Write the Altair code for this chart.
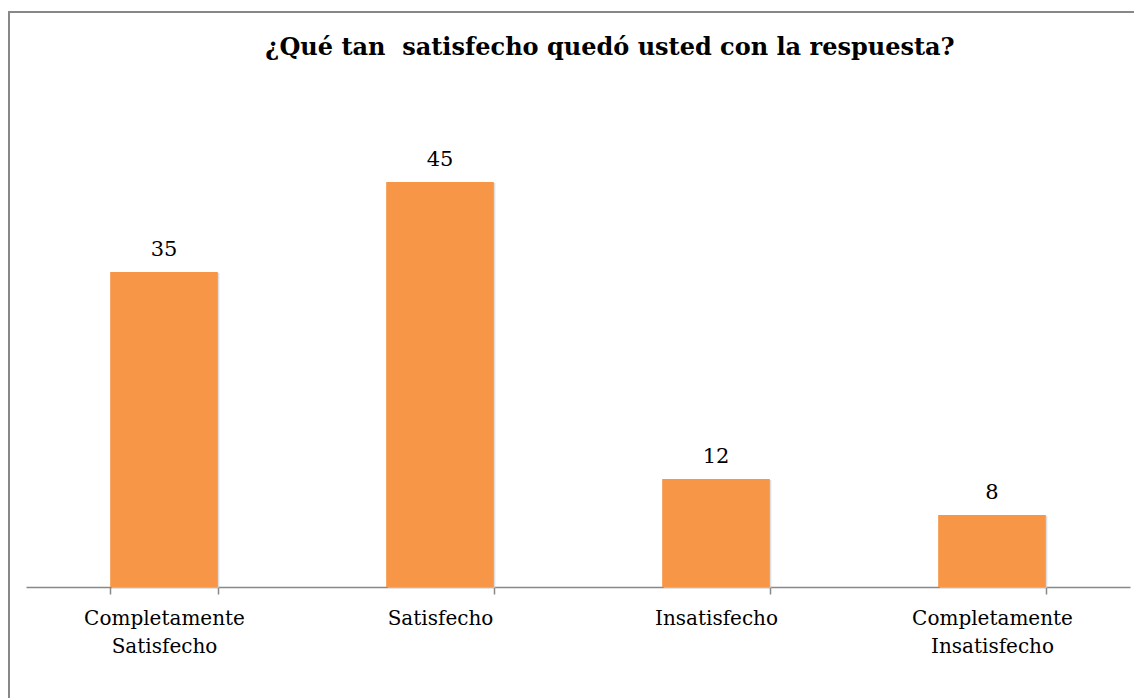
import altair as alt
import pandas as pd

categories = ["Completamente\nSatisfecho", "Satisfecho", "Insatisfecho", "Completamente\nInsatisfecho"]
values = [35, 45, 12, 8]
title_text = "¿Qué tan\u00a0 satisfecho quedó usted con la respuesta?"

df = pd.DataFrame({"cat": categories, "val": values})
df["lab"] = df["val"].astype(str)

W, H = 1104, 450
FONT = "DejaVu Serif"

x = alt.X("cat:N", sort=categories, scale=alt.Scale(paddingInner=0.61, paddingOuter=0.305),
          axis=alt.Axis(title=None, labelAngle=0, labelFont=FONT, labelFontSize=20, labelColor="#000",
                        labelExpr="split(datum.label, '\\n')", labelLineHeight=28, labelPadding=14,
                        domainColor="#888", domainWidth=1.5, tickColor="#888", tickSize=7, tickWidth=1.5,
                        tickBand="extent", bandPosition=0))
y = alt.Y("val:Q", scale=alt.Scale(domain=[0, 50]), axis=None)

border = alt.Chart(df).mark_rect(filled=False, stroke="#888", strokeWidth=2).encode(
    x=alt.value(-17), x2=alt.value(1130), y=alt.value(-125), y2=alt.value(720)
).transform_filter("datum.val == 35")

title = alt.Chart(df).mark_text(font=FONT, fontSize=24, fontWeight="bold", color="#000",
                                baseline="alphabetic", align="center").encode(
    x=alt.value(584), y=alt.value(-82), text=alt.value(title_text)
).transform_filter("datum.val == 35")

shadow = alt.Chart(df).mark_bar(color="#d0d0d0", opacity=0.7, xOffset=1.5, yOffset=1).encode(
    x=x, y=y
)
bars = alt.Chart(df).mark_bar(color="#F79646").encode(x=x, y=y)
text = alt.Chart(df).mark_text(font=FONT, fontSize=21, color="#000", dy=-16, baseline="alphabetic").encode(
    x=x, y=y, text="lab:N"
)

chart = alt.layer(border, title, shadow, bars, text).properties(
    width=W, height=H,
    autosize=alt.AutoSizeParams(type="none"),
    padding={"left": 18, "top": 129, "right": 4, "bottom": 111},
).configure_view(stroke=None)

chart.save("out.html", embed_options={"renderer": "svg", "actions": False})
